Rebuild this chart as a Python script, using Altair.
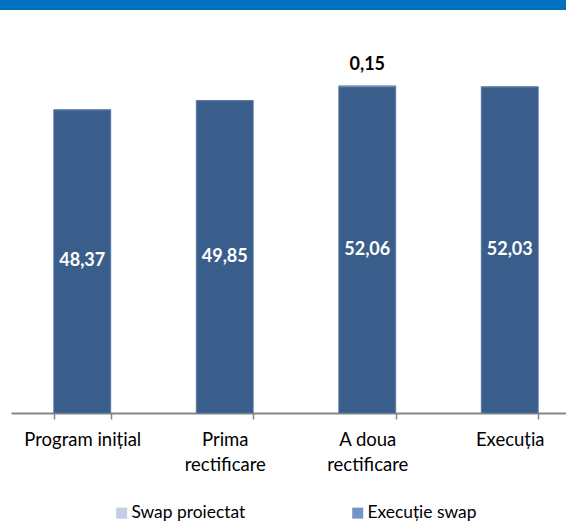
import altair as alt
import pandas as pd

# Categories on the x axis and the two stacked series
categorii = ["Program inițial", "Prima rectificare", "A doua rectificare", "Execuția"]
executie_swap = [48.37, 49.85, 52.06, 52.03]
swap_proiectat = [0.0, 0.0, 0.15, 0.0]
serii = ["Swap proiectat", "Execuție swap"]

rows = []
for cat, ex, pr in zip(categorii, executie_swap, swap_proiectat):
    rows.append({"categorie": cat, "serie": "Execuție swap", "valoare": ex, "ordine": 1, "baza": ex})
    rows.append({"categorie": cat, "serie": "Swap proiectat", "valoare": pr, "ordine": 2, "baza": ex})
df = pd.DataFrame(rows)

FONT = "Lato"
W, H = 555, 376

x_enc = alt.X(
    "categorie:N",
    sort=categorii,
    title=None,
    scale=alt.Scale(domain=categorii, range=[0, 570], paddingInner=0.6, paddingOuter=0.3),
    axis=alt.Axis(
        labelAngle=0,
        labelFont=FONT,
        labelFontSize=18.5,
        labelColor="#000000",
        labelPadding=11,
        labelLineHeight=25,
        labelBaseline="top",
        labelExpr="replace(datum.label, ' rectificare', '') != datum.label ? [replace(datum.label, ' rectificare', ''), 'rectificare'] : datum.label",
        domainColor="#868686",
        domainWidth=1.8,
        tickColor="#868686",
        tickWidth=1.5,
        tickSize=6,
        tickBand="extent",
        grid=False,
    ),
)
y_scale = alt.Scale(domain=[0, 60], nice=False)

base = alt.Chart(df)

# Legend carrier: squares sitting under the bars, they only feed the legend
legenda = base.mark_square(filled=True, size=100, opacity=1).encode(
    x=x_enc,
    y=alt.Y("mijloc:Q", scale=y_scale, axis=None),
    color=alt.Color(
        "serie:N",
        scale=alt.Scale(domain=serii, range=["#C4CEE3", "#7394C8"]),
        legend=alt.Legend(
            title=None,
            orient="none",
            legendX=102,
            legendY=467,
            direction="horizontal",
            symbolType="square",
            symbolSize=121,
            symbolStrokeWidth=0,
            labelFont=FONT,
            labelFontSize=17.4,
            labelColor="#000000",
            labelOffset=1,
            columnPadding=103,
            padding=0,
        ),
    ),
).transform_calculate(mijloc="datum.baza / 2")

bare = base.mark_bar(stroke="#5A7AA6", strokeWidth=0.8).encode(
    x=x_enc,
    y=alt.Y("valoare:Q", stack="zero", scale=y_scale, axis=None),
    fill=alt.Fill(
        "serie:N",
        scale=alt.Scale(domain=serii, range=["#B9C6DE", "#3A5E8B"]),
        legend=None,
    ),
    order=alt.Order("ordine:Q"),
)

etichete_exec = base.transform_filter(
    alt.datum.serie == "Execuție swap"
).transform_calculate(
    mijloc="datum.valoare / 2",
    eticheta="replace(format(datum.valoare, '.2f'), '.', ',')",
).mark_text(
    font=FONT, fontSize=18, fontWeight="bold", color="#FFFFFF", baseline="middle"
).encode(
    x=x_enc,
    y=alt.Y("mijloc:Q", scale=y_scale, axis=None),
    text="eticheta:N",
)

etichete_proj = base.transform_joinaggregate(
    total="sum(valoare)", groupby=["categorie"]
).transform_filter(
    (alt.datum.serie == "Swap proiectat") & (alt.datum.valoare > 0)
).transform_calculate(
    eticheta="replace(format(datum.valoare, '.2f'), '.', ',')",
).mark_text(
    font=FONT, fontSize=18, fontWeight="bold", color="#000000", baseline="middle", dy=-21
).encode(
    x=x_enc,
    y=alt.Y("total:Q", scale=y_scale, axis=None),
    text="eticheta:N",
)

# Blue strip across the top of the page
banda = alt.Chart(pd.DataFrame({"k": [0]})).mark_rect(color="#0070C0").encode(
    x=alt.value(-11), x2=alt.value(W), y=alt.value(-37), y2=alt.value(-27)
)

chart = alt.layer(legenda, bare, etichete_exec, etichete_proj, banda).properties(
    width=W,
    height=H,
    autosize=alt.AutoSizeParams(type="none"),
    padding={"left": 11, "top": 37, "right": 0, "bottom": 110},
).configure(background="#FFFFFF").configure_view(stroke=None)

chart.save("out.html", embed_options={"renderer": "svg", "actions": False})
